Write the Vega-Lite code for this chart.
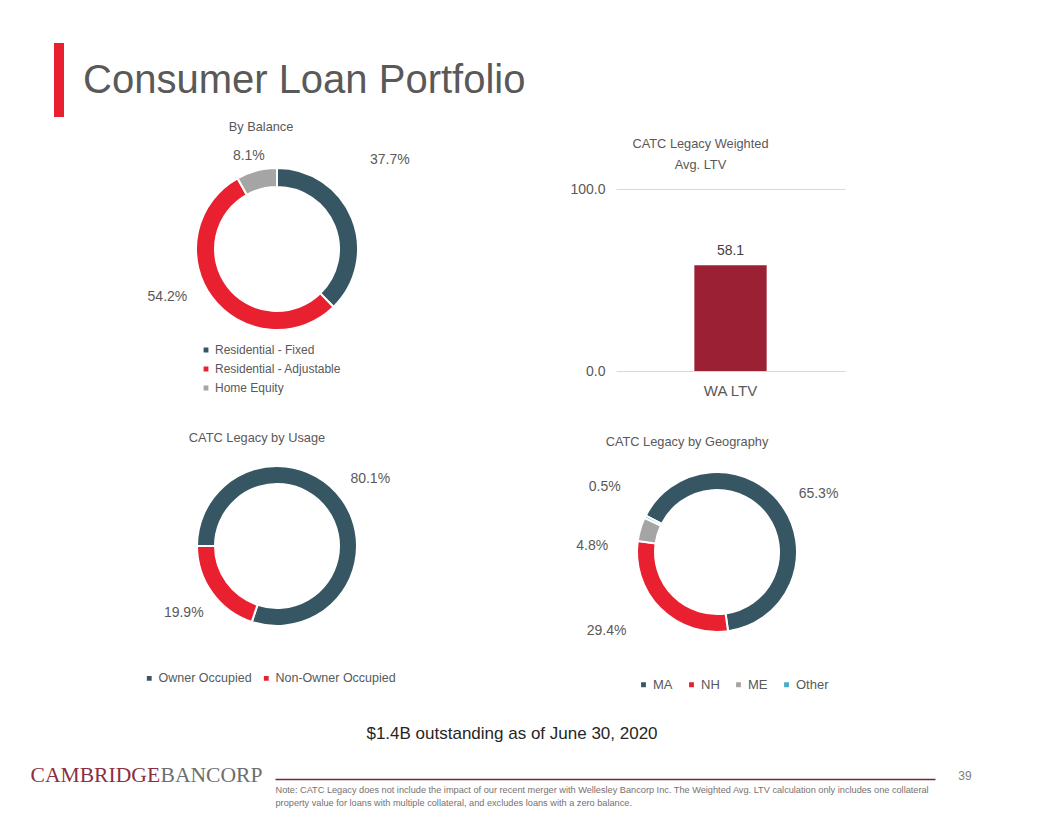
{
  "$schema": "https://vega.github.io/schema/vega-lite/v6.json",
  "padding": {"left": 30, "top": 43, "right": 5, "bottom": 0},
  "background": "white",
  "datasets": {
    "balance": [
      {"cat": "Residential - Fixed", "value": 0.377},
      {"cat": "Residential - Adjustable", "value": 0.542},
      {"cat": "Home Equity", "value": 0.081}
    ],
    "usage": [
      {"cat": "Owner Occupied", "value": 0.801},
      {"cat": "Non-Owner Occupied", "value": 0.199}
    ],
    "geo": [
      {"cat": "MA", "value": 0.653},
      {"cat": "NH", "value": 0.294},
      {"cat": "ME", "value": 0.048},
      {"cat": "Other", "value": 0.005}
    ],
    "ltv": [{"metric": "WA LTV", "value": 58.1}],
    "blank": [{}]
  },
  "columns": 4,
  "bounds": "flush",
  "align": "each",
  "spacing": {"row": 72, "column": 0},
  "resolve": {
    "scale": {"color": "independent", "theta": "independent", "x": "independent", "y": "independent"},
    "legend": {"color": "independent"}
  },
  "concat": [
    {"width": 24, "height": 74, "data": {"values": []}, "mark": "text", "encoding": {}},
    {
      "width": 10, "height": 74,
      "view": {"fill": "#e8202f", "stroke": null},
      "data": {"name": "blank"},
      "mark": {"type": "text", "align": "left", "baseline": "middle", "dx": 24, "dy": 1, "fontSize": 40, "font": "Liberation Sans", "color": "#595959"},
      "encoding": {"text": {"value": "Consumer Loan Portfolio"}}
    },
    {"width": 1, "height": 1, "data": {"values": []}, "mark": "text", "encoding": {}},
    {"width": 1, "height": 1, "data": {"values": []}, "mark": "text", "encoding": {}},

    {"width": 1, "height": 1, "data": {"values": []}, "mark": "text", "encoding": {}},
    {
      "width": 446, "height": 120,
      "data": {"name": "balance"},
      "title": {"text": "By Balance", "anchor": "middle", "frame": "group", "dx": -16, "offset": -68, "fontSize": 12.8, "fontWeight": "normal", "color": "#595959", "baseline": "bottom"},
      "encoding": {
        "theta": {"field": "value", "type": "quantitative", "stack": true, "scale": {"range": [0, 6.28319]}},
        "order": {"field": "cat", "type": "nominal", "sort": "descending"}
      },
      "layer": [
        {
          "mark": {"type": "arc", "radius": 81, "radius2": 62, "stroke": "white", "strokeWidth": 2},
          "encoding": {
            "color": {
              "field": "cat", "type": "nominal",
              "scale": {"domain": ["Residential - Fixed", "Residential - Adjustable", "Home Equity"], "range": ["#375663", "#e8202f", "#a5a5a5"]},
              "legend": {"orient": "none", "legendX": 146, "legendY": 155, "direction": "vertical", "title": null, "symbolType": "square", "symbolSize": 40, "labelFontSize": 12, "labelColor": "#595959", "labelOffset": 3, "rowPadding": 5, "padding": 0}
            }
          }
        },
        {
          "mark": {"type": "text", "radius": 125, "dx": -3, "dy": -42, "fontSize": 14, "color": "#595959"},
          "encoding": {
            "detail": {"field": "cat", "type": "nominal"},
            "text": {"condition": {"test": "datum.cat === 'Residential - Fixed'", "field": "value", "type": "quantitative", "format": ".1%"}, "value": ""}
          }
        },
        {
          "mark": {"type": "text", "radius": 118, "dx": -15, "dy": -23, "fontSize": 14, "color": "#595959"},
          "encoding": {
            "detail": {"field": "cat", "type": "nominal"},
            "text": {"condition": {"test": "datum.cat === 'Residential - Adjustable'", "field": "value", "type": "quantitative", "format": ".1%"}, "value": ""}
          }
        },
        {
          "mark": {"type": "text", "radius": 96, "dx": -4, "fontSize": 14, "color": "#595959"},
          "encoding": {
            "detail": {"field": "cat", "type": "nominal"},
            "text": {"condition": {"test": "datum.cat === 'Home Equity'", "field": "value", "type": "quantitative", "format": ".1%"}, "value": ""}
          }
        }
      ]
    },
    {"width": 116, "height": 1, "data": {"values": []}, "mark": "text", "encoding": {}},
    {
      "width": 229, "height": 182,
      "data": {"name": "ltv"},
      "title": {"text": ["CATC Legacy Weighted", "Avg. LTV"], "anchor": "middle", "frame": "bounds", "dx": -7, "offset": -3, "lineHeight": 21, "fontSize": 12.8, "fontWeight": "normal", "color": "#595959", "baseline": "bottom"},
      "encoding": {
        "x": {"field": "metric", "type": "nominal", "scale": {"paddingInner": 0.52, "paddingOuter": 0.52},
              "axis": {"title": null, "labelAngle": 0, "labelFontSize": 15, "labelColor": "#595959", "domain": false, "ticks": false, "labelPadding": 12}},
        "y": {"field": "value", "type": "quantitative", "scale": {"domain": [0, 100]},
              "axis": {"title": null, "values": [0, 100], "format": ".1f", "labelFontSize": 14, "labelColor": "#595959", "domain": false, "ticks": false, "labelPadding": 11, "gridColor": "#d9d9d9"}}
      },
      "layer": [
        {"mark": {"type": "bar", "color": "#9b2033"}},
        {"mark": {"type": "text", "dy": -14, "fontSize": 14, "color": "#404040"},
         "encoding": {"text": {"field": "value", "type": "quantitative", "format": ".1f"}}}
      ]
    },

    {"width": 1, "height": 1, "data": {"values": []}, "mark": "text", "encoding": {}},
    {
      "width": 446, "height": 206,
      "data": {"name": "usage"},
      "title": {"text": "CATC Legacy by Usage", "anchor": "middle", "frame": "group", "dx": -20, "offset": -15, "fontSize": 12.8, "fontWeight": "normal", "color": "#595959", "baseline": "bottom"},
      "encoding": {
        "theta": {"field": "value", "type": "quantitative", "stack": true, "scale": {"range": [4.71239, 10.99557]}},
        "order": {"field": "value", "type": "quantitative", "sort": "descending"}
      },
      "layer": [
        {
          "mark": {"type": "arc", "radius": 80, "radius2": 62, "stroke": "white", "strokeWidth": 2},
          "encoding": {
            "color": {
              "field": "cat", "type": "nominal",
              "scale": {"domain": ["Owner Occupied", "Non-Owner Occupied"], "range": ["#375663", "#e8202f"]},
              "legend": {"orient": "none", "legendX": 89, "legendY": 229, "direction": "horizontal", "title": null, "symbolType": "square", "symbolSize": 40, "labelFontSize": 12.5, "labelColor": "#595959", "labelOffset": 3, "columnPadding": 8, "padding": 0}
            }
          }
        },
        {
          "mark": {"type": "text", "radius": 115, "fontSize": 14, "color": "#595959"},
          "encoding": {
            "detail": {"field": "cat", "type": "nominal"},
            "text": {"field": "value", "type": "quantitative", "format": ".1%"}
          }
        }
      ]
    },
    {"width": 1, "height": 1, "data": {"values": []}, "mark": "text", "encoding": {}},
    {
      "width": 202, "height": 218,
      "data": {"name": "geo"},
      "title": {"text": "CATC Legacy by Geography", "anchor": "middle", "frame": "group", "dx": -30, "offset": -19, "fontSize": 12.8, "fontWeight": "normal", "color": "#595959", "baseline": "bottom"},
      "encoding": {
        "theta": {"field": "value", "type": "quantitative", "stack": true, "scale": {"range": [5.18363, 11.46681]}},
        "order": {"field": "value", "type": "quantitative", "sort": "descending"}
      },
      "layer": [
        {
          "mark": {"type": "arc", "radius": 80, "radius2": 62, "stroke": "white", "strokeWidth": 2},
          "encoding": {
            "color": {
              "field": "cat", "type": "nominal",
              "scale": {"domain": ["MA", "NH", "ME", "Other"], "range": ["#375663", "#e8202f", "#a5a5a5", "#4bacc6"]},
              "legend": {"orient": "none", "legendX": 21, "legendY": 235, "direction": "horizontal", "title": null, "symbolType": "square", "symbolSize": 40, "labelFontSize": 13, "labelColor": "#595959", "labelOffset": 3, "columnPadding": 12, "padding": 0}
            }
          }
        },
        {
          "mark": {"type": "text", "radius": 116, "dx": 7, "dy": 9, "fontSize": 14, "color": "#595959"},
          "encoding": {
            "detail": {"field": "cat", "type": "nominal"},
            "text": {"condition": {"test": "datum.cat === 'MA'", "field": "value", "type": "quantitative", "format": ".1%"}, "value": ""}
          }
        },
        {
          "mark": {"type": "text", "radius": 125, "dx": -22, "dy": -9, "fontSize": 14, "color": "#595959"},
          "encoding": {
            "detail": {"field": "cat", "type": "nominal"},
            "text": {"condition": {"test": "datum.cat === 'NH'", "field": "value", "type": "quantitative", "format": ".1%"}, "value": ""}
          }
        },
        {
          "mark": {"type": "text", "radius": 125, "dx": -5, "dy": 30, "fontSize": 14, "color": "#595959"},
          "encoding": {
            "detail": {"field": "cat", "type": "nominal"},
            "text": {"condition": {"test": "datum.cat === 'ME'", "field": "value", "type": "quantitative", "format": ".1%"}, "value": ""}
          }
        },
        {
          "mark": {"type": "text", "radius": 125, "dy": -10, "fontSize": 14, "color": "#595959"},
          "encoding": {
            "detail": {"field": "cat", "type": "nominal"},
            "text": {"condition": {"test": "datum.cat === 'Other'", "field": "value", "type": "quantitative", "format": ".1%"}, "value": ""}
          }
        }
      ]
    },

    {
      "width": 1, "height": 70,
      "data": {"name": "blank"},
      "layer": [
        {"mark": {"type": "text", "align": "left", "baseline": "middle", "dy": 8, "fontSize": 21.6, "font": "Liberation Serif", "color": "#8c2f3f"},
         "encoding": {"text": {"value": "CAMBRIDGE"}}},
        {"mark": {"type": "text", "align": "left", "baseline": "middle", "dx": 130, "dy": 8, "fontSize": 21.6, "font": "Liberation Serif", "color": "#6d6e70"},
         "encoding": {"text": {"value": "BANCORP"}}}
      ]
    },
    {
      "width": 446, "height": 46,
      "data": {"name": "blank"},
      "layer": [
        {"mark": {"type": "text", "opacity": 0},
         "encoding": {
           "x": {"datum": 0, "type": "quantitative", "scale": {"domain": [0, 1], "range": [221, 881]},
                 "axis": {"orient": "bottom", "labels": false, "ticks": false, "grid": false, "domainColor": "#7b2533", "domainWidth": 1.3,
                          "title": ["Note: CATC Legacy does not include the impact of our recent merger with Wellesley Bancorp Inc. The Weighted Avg. LTV calculation only includes one collateral", "property value for loans with multiple collateral, and excludes loans with a zero balance."],
                          "titleAnchor": "start", "titleAlign": "left", "titleBaseline": "top", "titlePadding": 6, "titleFontSize": 9.2, "titleFontWeight": "normal", "titleColor": "#767171", "titleLineHeight": 13, "titleFont": "Liberation Sans"}},
           "text": {"value": ""}
         }},
        {"mark": {"type": "text", "dx": 235, "dy": -22, "fontSize": 17, "font": "Liberation Sans", "color": "#262626"},
         "encoding": {"text": {"value": "$1.4B outstanding as of June 30, 2020"}}},
        {"mark": {"type": "text", "dx": 688, "dy": 20, "fontSize": 12, "font": "Liberation Sans", "color": "#808080"},
         "encoding": {"text": {"value": "39"}}}
      ]
    }
  ],
  "config": {
    "view": {"stroke": null},
    "font": "Liberation Sans",
    "title": {"font": "Liberation Sans"},
    "axis": {"labelFont": "Liberation Sans"},
    "legend": {"labelFont": "Liberation Sans"}
  }
}
